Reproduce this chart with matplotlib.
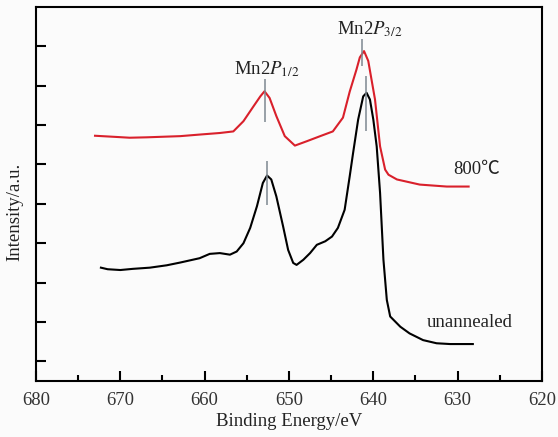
import matplotlib
matplotlib.use("Agg")
import matplotlib.pyplot as plt
from matplotlib.ticker import MultipleLocator, FixedLocator

plt.rcParams['font.family'] = ['Liberation Serif', 'DejaVu Serif']
plt.rcParams['mathtext.fontset'] = 'stix'

# Binding energy (eV) and intensity (a.u.)
unannealed_x = [672.3, 671.5, 670.0, 668.5, 666.5, 664.5, 662.9, 660.6, 659.4, 658.2, 657.0, 656.2, 655.4,
                654.6, 653.8, 653.1, 652.6, 652.1, 651.5, 650.7, 650.1, 649.5, 649.1,
                648.3, 647.5, 646.7, 645.7, 644.9, 644.2, 643.4, 642.8, 642.4, 641.8,
                641.2, 640.8, 640.4, 640.0, 639.6, 639.2, 638.8, 638.4, 638.0, 636.8,
                635.7, 634.1, 632.5, 630.9, 628.2]
unannealed_y = [2.88, 2.84, 2.82, 2.85, 2.88, 2.94, 3.01, 3.12, 3.23, 3.25, 3.21, 3.29, 3.50,
                3.89, 4.44, 5.03, 5.22, 5.12, 4.69, 3.93, 3.33, 3.00, 2.95,
                3.08, 3.25, 3.46, 3.55, 3.67, 3.89, 4.35, 5.20, 5.79, 6.64,
                7.23, 7.32, 7.15, 6.64, 5.96, 4.78, 3.08, 2.06, 1.64, 1.38,
                1.21, 1.04, 0.96, 0.94, 0.94]

annealed_x = [673.0, 670.5, 668.9, 666.9, 662.9, 660.6, 658.2, 656.6, 655.4, 654.2, 653.4,
              652.9, 652.3, 651.5, 650.5, 649.3, 647.9, 646.3, 644.8, 643.6, 642.8,
              642.0, 641.6, 641.1, 640.6, 639.8, 639.2, 638.6, 638.2, 637.2, 634.5,
              631.3, 628.7]
annealed_y = [6.23, 6.20, 6.18, 6.19, 6.22, 6.26, 6.30, 6.34, 6.60, 6.98, 7.23,
              7.36, 7.19, 6.73, 6.22, 5.98, 6.09, 6.22, 6.34, 6.69, 7.35,
              7.91, 8.22, 8.38, 8.13, 7.15, 5.96, 5.37, 5.24, 5.12, 4.99,
              4.94, 4.94]

# peak marker lines: x, y_bottom, y_top
marker_x = [652.85, 652.57, 641.38, 640.87]
marker_y0 = [6.59, 4.48, 7.99, 6.34]
marker_y1 = [7.66, 5.58, 8.68, 7.74]

peak_labels = [r'Mn2$\mathit{P}_{\mathrm{1/2}}$', r'Mn2$\mathit{P}_{\mathrm{3/2}}$']
peak_label_x = [652.6, 640.4]
peak_label_y = [7.91, 8.93]

series_labels = ['800\u2103', 'unannealed']
series_label_x = [627.7, 628.6]
series_label_y = [5.37, 1.48]

x_ticks = [680, 670, 660, 650, 640, 630, 620]

fig = plt.figure(figsize=(5.58, 4.37), dpi=100, facecolor='#fbfbfb')
ax = fig.add_axes([0.0645, 0.128, 0.9068, 0.856])
ax.set_facecolor('#fbfbfb')

ax.plot(unannealed_x, unannealed_y, color='black', lw=1.5)
ax.plot(annealed_x, annealed_y, color='#d9202b', lw=1.5)
ax.vlines(marker_x, marker_y0, marker_y1, color='#7d8890', lw=1.1)

for t, x, y in zip(peak_labels, peak_label_x, peak_label_y):
    ax.text(x, y, t, ha='center', va='center', fontsize=13.5, color='#222222')
ax.text(series_label_x[0], series_label_y[0], series_labels[0], ha='center', va='center',
        fontsize=13.5, color='#222222', family=['Liberation Serif', 'Noto Sans CJK SC'])
ax.text(series_label_x[1], series_label_y[1], series_labels[1], ha='center', va='center',
        fontsize=13.5, color='#222222')

ax.set_xlim(680, 620)
ax.set_ylim(0, 9.5)
ax.xaxis.set_major_locator(FixedLocator(x_ticks))
ax.xaxis.set_minor_locator(MultipleLocator(5))
ax.yaxis.set_major_locator(FixedLocator([0.5 + i for i in range(9)]))
ax.set_yticklabels([])
ax.tick_params(axis='both', which='major', direction='in', length=7, width=1.5,
               labelsize=13.5, pad=8, top=False, right=False, labelcolor='#333333')
ax.tick_params(axis='x', which='minor', direction='in', length=4, width=1.5, top=False)
for s in ax.spines.values():
    s.set_linewidth(1.5)

ax.set_xlabel('Binding Energy/eV', fontsize=13.5, labelpad=3, color='#222222')
ax.set_ylabel('Intensity/a.u.', fontsize=13.5, color='#222222')
ax.yaxis.set_label_coords(-0.026, 0.452)

fig.savefig('out.png', dpi=100, facecolor=fig.get_facecolor())
